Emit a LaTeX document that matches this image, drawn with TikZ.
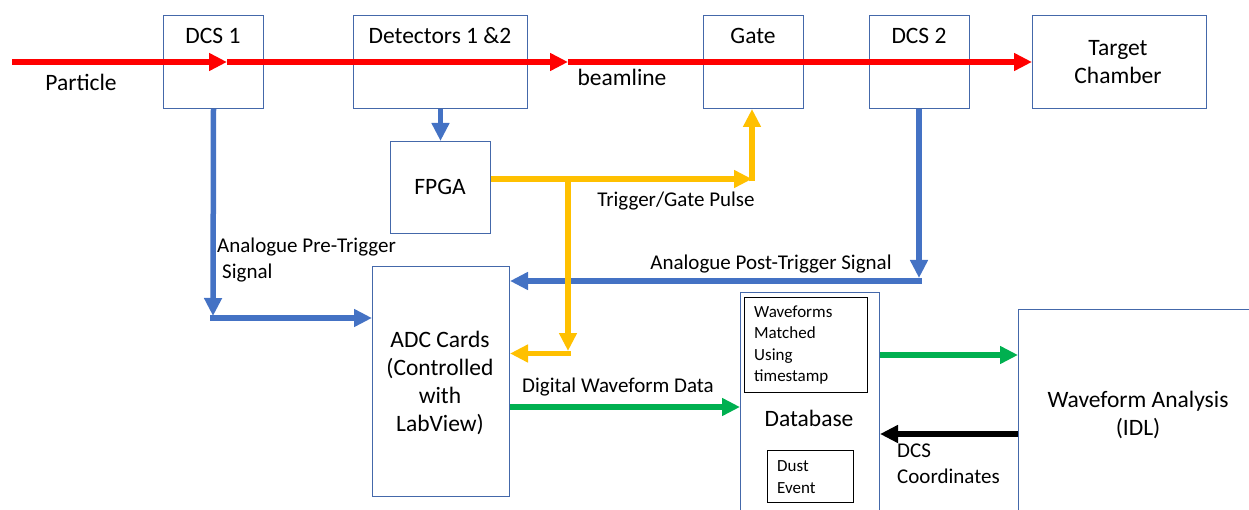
\documentclass[tikz,border=0pt]{standalone}
\usepackage{fontspec}
\setmainfont{Carlito}
\usetikzlibrary{arrows.meta}
\definecolor{boxblue}{RGB}{68,104,170}
\definecolor{beamred}{RGB}{255,0,0}
\definecolor{sigblue}{RGB}{68,114,196}
\definecolor{trigyellow}{RGB}{255,192,0}
\definecolor{datagreen}{RGB}{0,176,80}

\begin{document}
\begin{tikzpicture}[x=1pt,y=-1pt,
  box/.style={draw=boxblue, line width=1pt, inner sep=0pt, anchor=north west},
  inbox/.style={draw=black, line width=1pt, inner sep=0pt, anchor=north west},
  big/.style={font=\fontsize{23.5}{28.3}\selectfont, align=center, inner sep=0pt},
  lbl/.style={font=\fontsize{21}{26}\selectfont, inner sep=0pt},
  small/.style={font=\fontsize{17}{21.3}\selectfont, align=left, inner sep=0pt},
  flow/.style={line width=5.5pt, -{Triangle[length=18pt,width=17pt]}},
  beam/.style={flow, draw=beamred},
  sig/.style={flow, draw=sigblue},
  trig/.style={flow, draw=trigyellow},
  data/.style={flow, draw=datagreen},
  coord/.style={flow, draw=black}]

\useasboundingbox (0,0) rectangle (1249,510);
\clip (0,0) rectangle (1249,510);

% blocks along the beamline
\node[box, minimum width=100pt, minimum height=93pt] (dcs1) at (163,15) {};
\node[box, minimum width=174pt, minimum height=93pt] (det) at (353,15) {};
\node[box, minimum width=100pt, minimum height=93pt] (gate) at (703,15) {};
\node[box, minimum width=100pt, minimum height=93pt] (dcs2) at (869,15) {};
\node[box, minimum width=174pt, minimum height=93pt] (target) at (1032,15) {};

% acquisition and analysis blocks
\node[box, minimum width=100pt, minimum height=92pt] (fpga) at (390,141) {};
\node[box, minimum width=137pt, minimum height=230pt] (adc) at (372,266) {};
\node[box, minimum width=139pt, minimum height=240pt] (db) at (740,292) {};
\node[box, minimum width=250pt, minimum height=220pt] (wa) at (1018,309) {};
\node[inbox, minimum width=123pt, minimum height=95pt] (match) at (744,297) {};
\node[inbox, minimum width=86pt, minimum height=52pt] (dust) at (767,450) {};

% block texts
\node[big] (tdcs1) at (213,36) {DCS 1};
\node[big] (tdet) at (440,36) {Detectors 1 \&2};
\node[big] (tgate) at (753,36) {Gate};
\node[big] (tdcs2) at (919,36) {DCS 2};
\node[big] (ttarget) at (1118,62) {Target\\Chamber};
\node[big] (tfpga) at (440,187) {FPGA};
\node[big] (tadc) at (440,383) {ADC Cards\\(Controlled\\with\\LabView)};
\node[big] (tdb) at (809,418) {Database};
\node[big] (twa) at (1138,415) {Waveform Analysis\\(IDL)};
\node[small, anchor=west] (tmatch) at (754,345) {Waveforms\\Matched\\Using\\timestamp};
\node[small, anchor=west] (tdust) at (777,477) {Dust\\Event};

% connector labels
\node[big] (lpart) at (81,82) {Particle};
\node[big] (lbeam) at (622,77) {beamline};
\node[lbl] (ltrig) at (676,201) {Trigger/Gate Pulse};
\node[lbl, anchor=west, align=left] (lpre) at (217,260) {Analogue Pre-Trigger\\\hspace*{5pt}Signal};
\node[lbl] (lpost) at (771,264) {Analogue Post-Trigger Signal};
\node[lbl] (ldig) at (618,387) {Digital Waveform Data};
\node[lbl, anchor=west, align=left] (ldcs) at (897,464) {DCS\\Coordinates};

% helper points for bends and lanes
\coordinate (bstart) at (12,62);
\coordinate (b1) at (227,62);
\coordinate (b2) at (568,62);
\coordinate (preA) at (213,316);
\coordinate (preB) at (210,318);
\coordinate (postA) at (919,278);
\coordinate (postB) at (921.5,281);
\coordinate (tg) at (752,179);
\coordinate (tgb) at (752,181.5);
\coordinate (tj) at (568,176.5);
\coordinate (tk) at (568,351);
\coordinate (tkb) at (570.75,353.5);
\coordinate (laneDig) at (0,407);
\coordinate (laneOut) at (0,355);
\coordinate (laneBack) at (0,434);

% beamline
\draw[beam] (bstart) -- (b1);
\draw[beam] (b1) -- (b2);
\draw[beam] (b2) -- (target.west);

% analogue signals
\draw[sig] (det.south) -- (fpga.north);
\draw[sig] (dcs1.south) -- (preA);
\draw[sig] (preB) -- (preB -| adc.west);
\draw[sig] (dcs2.south -| postA) -- (postA);
\draw[sig] (postB) -- (postB -| adc.east);

% trigger / gate pulse
\draw[trig] (fpga.east |- tg) -- (tg);
\draw[trig] (tgb) -- (tg |- gate.south);
\draw[trig] (tj) -- (tk);
\draw[trig] (tkb) -- (tkb -| adc.east);

% digital data path
\draw[data] (adc.east |- laneDig) -- (db.west |- laneDig);
\draw[data] (db.east |- laneOut) -- (wa.west |- laneOut);
\draw[coord] (wa.west |- laneBack) -- (db.east |- laneBack);
\end{tikzpicture}
\end{document}
